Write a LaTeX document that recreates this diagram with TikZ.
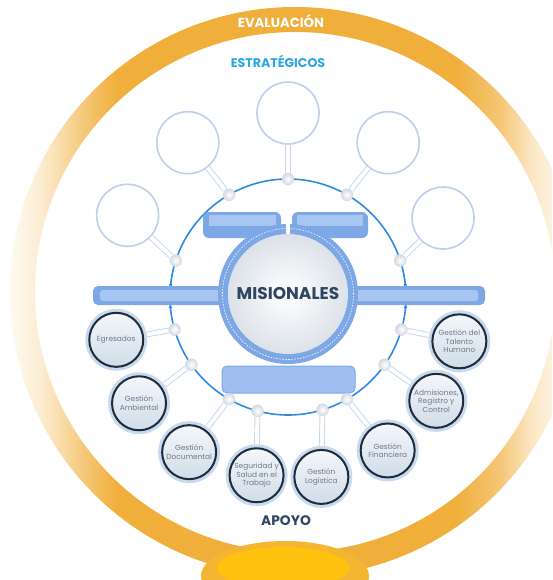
\documentclass[tikz,border=0pt]{standalone}
\usepackage{fontspec}
\setmainfont{Poppins}

\begin{document}
\begin{tikzpicture}[x=1pt, y=1pt]

\definecolor{ringcolor}{HTML}{F0AE3A}
\definecolor{bumpcolor}{HTML}{F4B531}
\definecolor{suncolor}{HTML}{FFC20E}
\definecolor{estratcolor}{HTML}{2AA7E0}
\definecolor{titlecolor}{HTML}{2F4562}
\definecolor{linkcolor}{HTML}{2C8BE2}
\definecolor{hubcolor}{HTML}{7EA7E6}
\definecolor{barlight}{HTML}{A9C5F1}
\definecolor{tablight}{HTML}{A0BEEF}
\definecolor{hubshade}{HTML}{DCE2E9}
\definecolor{stalkcolor}{HTML}{C6D5EA}
\definecolor{knobcolor}{HTML}{D4DAE2}
\definecolor{estratedge}{HTML}{BCCFEE}
\definecolor{navy}{HTML}{1E2C39}
\definecolor{halo}{HTML}{C9DAF0}
\definecolor{apoyotop}{HTML}{F4F7FB}
\definecolor{apoyobottom}{HTML}{D0DCE8}
\definecolor{labelcolor}{HTML}{6F7B89}

\pgfdeclarehorizontalshading{ringfade}{100bp}{color(0bp)=(ringcolor!8); color(25bp)=(ringcolor!8);
    color(25.44bp)=(ringcolor!10); color(27.63bp)=(ringcolor!22); color(29.82bp)=(ringcolor!48);
    color(32.89bp)=(ringcolor!85); color(34.65bp)=(ringcolor); color(64.04bp)=(ringcolor);
    color(67.98bp)=(ringcolor!70); color(70.35bp)=(ringcolor!35); color(72.19bp)=(ringcolor!18);
    color(75bp)=(ringcolor!8); color(100bp)=(ringcolor!8)}

\tikzstyle{linkline}=[line width=1.6pt, color=linkcolor]
\tikzstyle{stalk}=[draw=stalkcolor, line width=0.9pt, double=white, double distance=4pt]
\tikzstyle{knob}=[circle, minimum size=12pt, inner sep=0pt, draw=knobcolor, line width=0.4pt, inner color=white, outer color=knobcolor]
\tikzstyle{estrat}=[circle, minimum size=62pt, inner sep=0pt, draw=estratedge, line width=1.6pt, fill=white]
\tikzstyle{apoyo}=[circle, minimum size=54pt, inner sep=0pt, draw=navy, line width=2pt, top color=apoyotop, bottom color=apoyobottom, preaction={draw=halo, line width=8pt}, font=\fontsize{7.4}{8.4}\selectfont, text=labelcolor, align=center]
\tikzstyle{hubcore}=[circle, minimum size=120pt, inner sep=0pt, inner color=white, outer color=hubshade, font=\bfseries\fontsize{17}{17}\selectfont, text=titlecolor]
\tikzstyle{heading}=[font=\bfseries\fontsize{13.2}{13.2}\selectfont]

\useasboundingbox (0,0) rectangle (552,-580);
\clip (0,0) rectangle (552,-580);

%\draw[help lines, step=20] (0,0) grid (552,-580);

\coordinate (ring) at (295,-292);
\coordinate (link) at (288,-297);
\coordinate (hubc) at (288,-294);

\def\estrat#1#2#3#4{
    \path (link) ++(#2:118) node[knob] (k#1) {};
    \path (link) ++(#3:#4) node[estrat] (#1) {};
    \draw[stalk] (k#1) -- (#1);
}

\def\apoyo#1#2#3#4#5{
    \path (link) ++(#2:118) node[knob] (k#1) {};
    \path (link) ++(#3:#4) node[apoyo] (#1) {#5};
    \draw[stalk, shorten >=3pt] (k#1) -- (#1);
}

% evaluation ring
\shade[shading=ringfade, even odd rule] (ring) circle (285) (ring) circle (260);
\fill[bumpcolor] (285,-576) ellipse (84 and 35);
\fill[suncolor] (283,-568) ellipse (66 and 21);

\node[heading, text=white] (evaluacion) at (281,-21) {EVALUACIÓN};
\node[heading, font=\bfseries\fontsize{12.6}{12.6}\selectfont, text=estratcolor] (estrategicos) at (278,-61) {ESTRATÉGICOS};
\node[heading, font=\bfseries\fontsize{13.8}{13.8}\selectfont, text=titlecolor] (apoyotitle) at (286,-521) {APOYO};

% link ring
\draw[linkline] (link) circle (118);
\foreach \a in {174, 185, 6, 355} {
    \fill[linkcolor] (link) ++(\a:118) circle (1.8);
};

% bars
\fill[hubcolor, rounded corners=5pt] (93,-286) rectangle (232,-305);
\fill[barlight, rounded corners=3pt] (100,-290) rectangle (226,-301);
\fill[hubcolor, rounded corners=5pt] (344,-286) rectangle (485,-305);
\fill[barlight, rounded corners=3pt] (350,-290) rectangle (478,-301);

% tabs
\fill[hubcolor, rounded corners=6pt] (203,-212) rectangle (281,-238);
\fill[barlight] (209,-215) rectangle (276,-226);
\fill[hubcolor, rounded corners=6pt] (292,-212) rectangle (368,-238);
\fill[barlight] (297,-215) rectangle (363,-226);
\filldraw[fill=tablight, draw=hubcolor, line width=1pt, rounded corners=5pt] (222,-366) rectangle (355,-393);

% hub
\fill[hubcolor] (hubc) circle (70);
\fill[white] (286,-208) rectangle (290,-236);
\draw[white, line width=0.6pt, dash pattern=on 1.5pt off 1.5pt] (hubc) circle (65.5);
\node[hubcore] (misionales) at (hubc) {MISIONALES};

\estrat{estratizq}{162}{153}{180};
\estrat{estratsupizq}{120}{123}{184};
\estrat{estratsup}{90}{90}{184};
\estrat{estratsupder}{60}{57}{184};
\estrat{estratder}{18}{27}{174};

\apoyo{egresados}{196}{194}{177}{Egresados};
\apoyo{ambiental}{215}{215.5}{183}{Gestión\\Ambiental};
\apoyo{documental}{240}{237.5}{184}{Gestión\\Documental};
\apoyo{seguridad}{255}{260}{181}{Seguridad y\\Salud en el\\Trabajo};
\apoyo{logistica}{287}{280.5}{183}{Gestión\\Logística};
\apoyo{financiera}{300}{303}{183}{Gestión\\Financiera};
\apoyo{admisiones}{325}{325}{181}{Admisiones,\\Registro y\\Control};
\apoyo{talento}{344}{345.5}{177}{Gestión del\\Talento\\Humano};

\end{tikzpicture}
\end{document}
